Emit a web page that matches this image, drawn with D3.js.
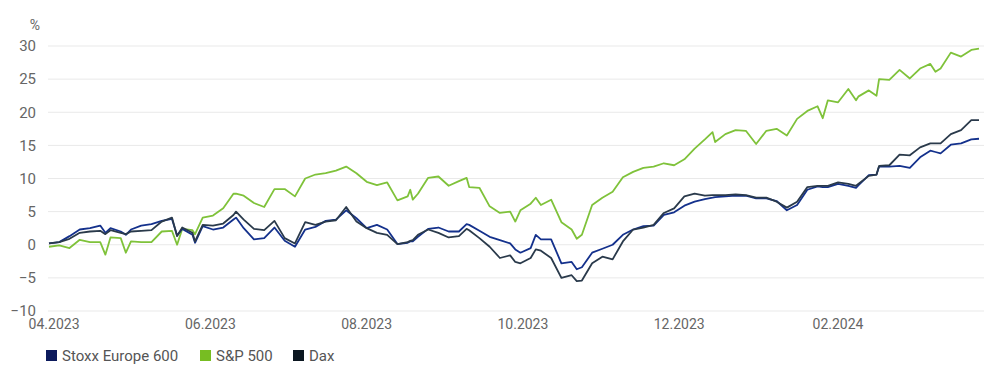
<!DOCTYPE html>
<html>
<head>
<meta charset="utf-8">
<script src="https://cdn.jsdelivr.net/npm/d3@7"></script>
<style>
  body { margin: 0; background: #fff; }
  text { font-family: Roboto, "Noto Sans", sans-serif; }
</style>
</head>
<body>
<div id="chart"></div>
<script>
// data (% change since 31.03.2023)
var dates = ["2023-03-31","2023-04-04","2023-04-08","2023-04-12","2023-04-16","2023-04-20","2023-04-22","2023-04-24",
  "2023-04-28","2023-04-30","2023-05-02","2023-05-06","2023-05-10","2023-05-14","2023-05-18","2023-05-20","2023-05-22",
  "2023-05-26","2023-05-27","2023-05-30","2023-06-03","2023-06-07","2023-06-11","2023-06-12","2023-06-15","2023-06-19",
  "2023-06-23","2023-06-27","2023-07-01","2023-07-05","2023-07-09","2023-07-13","2023-07-17","2023-07-21","2023-07-25",
  "2023-07-29","2023-08-02","2023-08-06","2023-08-10","2023-08-14","2023-08-18","2023-08-19","2023-08-20","2023-08-22",
  "2023-08-26","2023-08-30","2023-09-03","2023-09-07","2023-09-10","2023-09-11","2023-09-15","2023-09-19","2023-09-23",
  "2023-09-27","2023-09-29","2023-10-01","2023-10-05","2023-10-07","2023-10-09","2023-10-13","2023-10-17","2023-10-21",
  "2023-10-23","2023-10-25","2023-10-29","2023-11-02","2023-11-06","2023-11-10","2023-11-14","2023-11-18","2023-11-22",
  "2023-11-26","2023-11-30","2023-12-04","2023-12-08","2023-12-12","2023-12-15","2023-12-16","2023-12-20","2023-12-24",
  "2023-12-28","2024-01-01","2024-01-05","2024-01-09","2024-01-13","2024-01-17","2024-01-21","2024-01-25","2024-01-27",
  "2024-01-29","2024-02-02","2024-02-06","2024-02-09","2024-02-10","2024-02-14","2024-02-17","2024-02-18","2024-02-22",
  "2024-02-26","2024-03-01","2024-03-05","2024-03-09","2024-03-11","2024-03-13","2024-03-17","2024-03-21","2024-03-25",
  "2024-03-28"];

var sp500 = [-0.3,-0.1,-0.5,0.75,0.4,0.4,-1.5,1.1,1.0,-1.2,0.5,0.4,0.4,2.0,2.1,0.0,2.4,2.2,1.6,4.1,4.4,5.5,7.7,7.7,7.4,6.3,
  5.7,8.4,8.4,7.3,10.0,10.6,10.8,11.2,11.8,10.8,9.5,9.0,9.4,6.7,7.3,8.3,6.8,7.7,10.1,10.3,8.9,9.6,10.1,8.7,8.6,5.8,4.8,
  5.0,3.5,5.2,6.2,7.1,6.0,6.8,3.4,2.3,0.9,1.5,6.0,7.1,8.0,10.2,11.0,11.6,11.8,12.3,12.0,12.9,14.5,15.9,17.0,15.5,16.7,
  17.3,17.2,15.2,17.2,17.5,16.5,19.0,20.2,20.9,19.1,21.8,21.5,23.5,21.8,22.4,23.3,22.5,25.0,24.9,26.4,25.1,26.6,27.3,
  26.1,26.6,29.0,28.4,29.4,29.6];

var stoxx = [0.2,0.4,1.3,2.3,2.5,2.9,1.8,2.5,2.0,1.5,2.3,2.9,3.1,3.6,3.9,1.4,2.4,1.5,0.3,2.8,2.3,2.6,3.8,4.1,2.5,0.8,
  1.0,2.6,0.6,-0.3,2.3,2.7,3.6,3.8,5.2,4.0,2.5,3.0,2.3,0.1,0.3,0.5,0.5,1.2,2.4,2.6,2.0,2.0,3.1,3.0,2.1,1.2,0.7,
  0.2,-0.7,-1.2,-0.5,1.5,0.8,0.8,-2.8,-2.6,-3.7,-3.4,-1.2,-0.6,0.0,1.5,2.3,2.8,2.9,4.5,4.9,5.9,6.5,6.9,7.1,7.2,7.3,
  7.4,7.4,7.0,7.0,6.6,5.2,6.0,8.3,8.8,8.7,8.7,9.2,8.9,8.6,9.0,10.5,10.6,11.8,11.8,11.9,11.6,13.2,14.2,
  14.0,13.8,15.1,15.3,15.9,16.0];

var dax = [0.2,0.4,0.9,1.8,2.0,2.1,1.6,2.2,1.8,1.6,2.0,2.1,2.2,3.5,4.1,1.3,2.6,1.8,0.5,3.0,2.9,3.2,4.5,5.0,3.8,2.4,
  2.2,3.6,1.0,0.2,3.4,3.0,3.5,3.7,5.7,3.5,2.5,1.8,1.5,0.1,0.4,0.6,0.7,1.5,2.3,1.8,1.1,1.3,2.4,2.2,1.0,-0.3,-2.0,
  -1.6,-2.6,-2.8,-2.0,-0.7,-0.9,-2.0,-5.0,-4.6,-5.5,-5.4,-2.8,-1.8,-2.2,0.5,2.3,2.6,3.0,4.8,5.5,7.3,7.7,7.4,7.5,7.5,7.5,
  7.6,7.5,7.1,7.1,6.5,5.6,6.5,8.7,8.9,8.9,8.9,9.4,9.2,8.9,9.2,10.4,10.6,11.9,12.0,13.6,13.5,14.7,15.3,
  15.3,15.3,16.7,17.3,18.8,18.8];

var yTicks = [-10, -5, 0, 5, 10, 15, 20, 25, 30];
var xTickDates = ["2023-04-01","2023-06-01","2023-08-01","2023-10-01","2023-12-01","2024-02-01"];
var xTickLabels = ["04.2023","06.2023","08.2023","10.2023","12.2023","02.2024"];

var seriesNames = ["Stoxx Europe 600", "S&P 500", "Dax"];
var lineColors = ["#14318c", "#7fc23a", "#2a3a4b"];
var legendColors = ["#0c1a5c", "#77bd22", "#0b1620"];

var global_width = 1000,
    global_height = 387;

var parseDate = d3.timeParse("%Y-%m-%d");

var data = dates.map(function(d, i){
    return {date: parseDate(d), stoxx: stoxx[i], sp: sp500[i], dax: dax[i]};
});

var svg = d3.select("#chart")
            .append("svg")
            .attr("width", global_width)
            .attr("height", global_height);

//Scales
var xScale = d3.scaleTime()
               .domain([parseDate("2023-03-31"), parseDate("2024-03-28")])
               .range([49, 979]);

var yScale = d3.scaleLinear()
               .domain([-10, 30])
               .range([311, 46]);

//Gridlines
svg.append("g")
   .attr("id", "grid")
   .selectAll("line")
   .data(yTicks)
   .enter()
   .append("line")
   .attr("x1", 48)
   .attr("x2", 984)
   .attr("y1", function(d){ return yScale(d); })
   .attr("y2", function(d){ return yScale(d); })
   .attr("stroke", "#e9e9e9")
   .attr("stroke-width", 1);

//Y axis labels
var yAxis = d3.axisLeft(yScale)
              .tickValues(yTicks)
              .tickSize(0)
              .tickPadding(0);

svg.append("g")
   .attr("id", "y-axis")
   .attr("transform", "translate(36,0)")
   .call(yAxis)
   .call(function(g){ g.select(".domain").remove(); })
   .selectAll("text")
   .attr("font-size", "15px")
   .attr("fill", "#666");

svg.append("text")
   .attr("x", 35)
   .attr("y", 30)
   .attr("text-anchor", "middle")
   .attr("font-size", "14px")
   .attr("fill", "#666")
   .text("%");

//X axis labels
var xAxis = d3.axisBottom(xScale)
              .tickValues(xTickDates.map(parseDate))
              .tickFormat(function(d, i){ return xTickLabels[i]; })
              .tickSize(0)
              .tickPadding(0);

svg.append("g")
   .attr("id", "x-axis")
   .attr("transform", "translate(2,319)")
   .call(xAxis)
   .call(function(g){ g.select(".domain").remove(); })
   .selectAll("text")
   .attr("font-size", "14px")
   .attr("fill", "#666");

//Lines
var keys = ["sp", "stoxx", "dax"],
    colorIndex = [1, 0, 2];

var lines = svg.append("g").attr("id", "lines");

for (var k = 0; k < keys.length; k++){
    var key = keys[k];
    var line = d3.line()
                 .x(function(d){ return xScale(d.date); })
                 .y((function(key){ return function(d){ return yScale(d[key]); }; })(key));
    lines.append("path")
         .datum(data)
         .attr("fill", "none")
         .attr("stroke", lineColors[colorIndex[k]])
         .attr("stroke-width", 1.8)
         .attr("stroke-linejoin", "round")
         .attr("d", line);
}

//Legend
var legendX = [46, 200, 293];

var legend = svg.append("g")
                .attr("id", "legend")
                .selectAll("g")
                .data(seriesNames)
                .enter()
                .append("g")
                .attr("transform", function(d, i){ return "translate(" + legendX[i] + ",350)"; });

legend.append("rect")
      .attr("width", 11)
      .attr("height", 11)
      .attr("fill", function(d, i){ return legendColors[i]; });

legend.append("text")
      .attr("x", 16)
      .attr("y", 11)
      .attr("font-size", "15px")
      .attr("fill", "#555")
      .text(function(d){ return d; });
</script>
</body>
</html>
